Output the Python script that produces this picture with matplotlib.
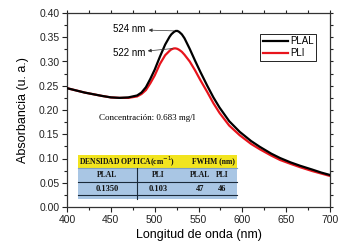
import matplotlib
matplotlib.use("Agg")
import matplotlib.pyplot as plt
from matplotlib.patches import Rectangle
from matplotlib.ticker import MultipleLocator

# wavelength (nm) and absorbance
wavelength = [400, 420, 440, 450, 460, 470, 480, 485, 490, 495, 500, 506, 512, 517,
              519, 522, 524, 526, 528, 531, 534, 540, 546, 552, 560, 567, 574, 585,
              597, 610, 620, 633, 643, 655, 666, 680, 690, 700]
plal = [0.245, 0.236, 0.229, 0.226, 0.225, 0.226, 0.230, 0.236, 0.247, 0.264, 0.283,
        0.310, 0.335, 0.351, 0.356, 0.361, 0.363, 0.363, 0.361, 0.356, 0.348, 0.326,
        0.302, 0.279, 0.250, 0.226, 0.205, 0.177, 0.155, 0.136, 0.124, 0.110, 0.101,
        0.092, 0.085, 0.077, 0.071, 0.066]
pli = [0.245, 0.236, 0.229, 0.226, 0.225, 0.225, 0.228, 0.233, 0.241, 0.255, 0.271,
       0.295, 0.313, 0.322, 0.325, 0.327, 0.327, 0.326, 0.324, 0.320, 0.314, 0.300,
       0.282, 0.262, 0.237, 0.214, 0.194, 0.168, 0.148, 0.130, 0.119, 0.106, 0.097,
       0.089, 0.082, 0.074, 0.069, 0.064]

peak_plal = (524, 0.363)
peak_pli = (522, 0.327)

table_header = ["DENSIDAD OPTICA(cm$^{-1}$)", "FWHM (nm)"]
table_cols = ["PLAL", "PLI", "PLAL", "PLI"]
table_vals = ["0.1350", "0.103", "47", "46"]

plt.rcParams['font.family'] = ['Liberation Sans', 'DejaVu Sans']

fig = plt.figure(figsize=(3.47, 2.49), dpi=100)
ax = fig.add_axes([67/347, 1-207/249, 263/347, 194/249])

ax.plot(wavelength, plal, color='black', lw=1.6, label='PLAL', zorder=3)
ax.plot(wavelength, pli, color='#e8141c', lw=1.6, label='PLI', zorder=2)

ax.set_xlim(400, 700)
ax.set_ylim(0, 0.40)
ax.xaxis.set_major_locator(MultipleLocator(50))
ax.xaxis.set_minor_locator(MultipleLocator(25))
ax.yaxis.set_major_locator(MultipleLocator(0.05))
ax.yaxis.set_minor_locator(MultipleLocator(0.025))
ax.yaxis.set_major_formatter(matplotlib.ticker.FormatStrFormatter('%.2f'))
ax.tick_params(which='both', direction='out', labelsize=7.5,
               pad=2, width=0.8, colors='#222222')
ax.tick_params(which='major', length=3.5)
ax.tick_params(which='minor', length=2)
# secondary axes just for the little tick marks on top and right
ax.tick_params(which='both', top=True, right=True)
for t in ax.xaxis.get_ticklines(minor=False)[1::2] + ax.xaxis.get_ticklines(minor=True)[1::2]:
    t.set_markersize(2)
for t in ax.yaxis.get_ticklines(minor=False)[1::2] + ax.yaxis.get_ticklines(minor=True)[1::2]:
    t.set_markersize(2)
for s in ax.spines.values():
    s.set_linewidth(0.9)
    s.set_color('#333333')

ax.set_xlabel("Longitud de onda (nm)", fontsize=9, labelpad=3)
ax.set_ylabel("Absorbancia (u. a.)", fontsize=9, labelpad=7)

ax.legend(loc='upper right', bbox_to_anchor=(0.947, 0.892), borderaxespad=0,
          fancybox=False, edgecolor='black', fontsize=7, handlelength=2.6,
          handletextpad=0.2, borderpad=0.25, labelspacing=0.2, framealpha=1)
ax.get_legend().get_frame().set_linewidth(0.6)

ax.annotate("524 nm", xy=peak_plal, xytext=(453, 0.366), fontsize=7, va='center',
            arrowprops=dict(arrowstyle='<|-', color='#333333', lw=0.5,
                            mutation_scale=5, shrinkA=0, shrinkB=1))
ax.annotate("522 nm", xy=peak_pli, xytext=(452, 0.318), fontsize=7, va='center',
            arrowprops=dict(arrowstyle='<|-', color='#333333', lw=0.5,
                            mutation_scale=5, shrinkA=0, shrinkB=1))

ax.text(437, 0.184, "Concentración: 0.683 mg/l", fontsize=6.5, va='center',
        family='Liberation Serif')

# table drawn in axes fraction
tr = ax.transAxes
def fx(px):
    return (px - 67) / 263
def fy(py):
    return (207 - py) / 194

ax.add_patch(Rectangle((fx(78), fy(168)), fx(237)-fx(78), fy(155)-fy(168),
                       transform=tr, facecolor='#f2e41e', edgecolor='none', zorder=4))
ax.add_patch(Rectangle((fx(78), fy(199)), fx(237)-fx(78), fy(168)-fy(199),
                       transform=tr, facecolor='#a9c6e4', edgecolor='none', zorder=4))
for yy, c in [(168, '#7f9fc0'), (181.5, '#1a2a3a'), (195, '#1a2a3a')]:
    ax.plot([fx(78), fx(237)], [fy(yy), fy(yy)], transform=tr, color=c, lw=0.8, zorder=5)
ax.plot([fx(137), fx(137)], [fy(168), fy(199)], transform=tr, color='#1a2a3a', lw=0.8, zorder=5)

tk = dict(transform=tr, ha='center', va='center', family='Liberation Serif',
          fontsize=5.5, fontweight='bold', color='#111111', zorder=6)
ax.text(fx(127), fy(161.5), table_header[0], **tk)
ax.text(fx(213), fy(161.5), table_header[1], **tk)
col_x = [107, 158, 200, 222]
for cx, name, val in zip(col_x, table_cols, table_vals):
    ax.text(fx(cx), fy(175), name, **tk)
    ax.text(fx(cx), fy(188.5), val, **dict(tk, fontsize=6))

fig.savefig("out.png", dpi=100)
